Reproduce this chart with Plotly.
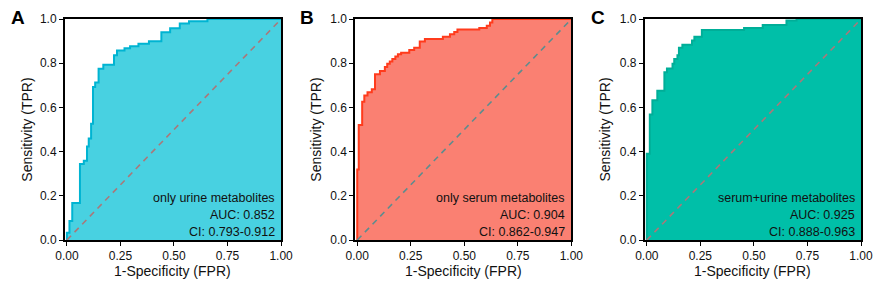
import plotly.graph_objects as go

W, H = 886, 287

# ---- data ----
fpr_urine = [0, 0, 0.012, 0.025, 0.061, 0.079, 0.094, 0.102, 0.113, 0.122, 0.132, 0.148, 0.170,
             0.220, 0.234, 0.269, 0.295, 0.334, 0.383, 0.441, 0.482, 0.527, 0.570, 0.656, 1.0]
tpr_urine = [0, 0.033, 0.086, 0.168, 0.344, 0.359, 0.423, 0.459, 0.526, 0.693, 0.713, 0.775, 0.793,
             0.836, 0.858, 0.868, 0.877, 0.888, 0.900, 0.940, 0.959, 0.980, 0.990, 1.0, 1.0]

fpr_serum = [0, 0, 0.007, 0.023, 0.033, 0.048, 0.068, 0.083, 0.106, 0.129, 0.140, 0.152, 0.164,
             0.178, 0.190, 0.205, 0.243, 0.266, 0.292, 0.316, 0.400, 0.433, 0.453, 0.468, 0.570,
             0.605, 0.620, 0.631, 1.0]
tpr_serum = [0, 0.319, 0.521, 0.626, 0.654, 0.669, 0.683, 0.750, 0.765, 0.783, 0.798, 0.808, 0.819,
             0.831, 0.841, 0.848, 0.860, 0.870, 0.898, 0.910, 0.920, 0.931, 0.941, 0.953, 0.960,
             0.970, 0.985, 1.0, 1.0]

fpr_both = [0, 0, 0.014, 0.026, 0.049, 0.082, 0.094, 0.120, 0.128, 0.143, 0.150, 0.166, 0.211,
            0.222, 0.257, 0.454, 0.541, 0.652, 0.699, 1.0]
tpr_both = [0, 0.39, 0.568, 0.633, 0.676, 0.759, 0.776, 0.798, 0.819, 0.836, 0.870, 0.884, 0.903,
            0.920, 0.951, 0.960, 0.973, 0.994, 1.0, 1.0]

panel_letters = ["A", "B", "C"]
model_names = ["only urine metabolites", "only serum metabolites", "serum+urine metabolites"]
auc_values = ["0.852", "0.904", "0.925"]
ci_values = ["0.793-0.912", "0.862-0.947", "0.888-0.963"]
x_ticks = [0, 0.25, 0.5, 0.75, 1.0]
y_ticks = [0, 0.2, 0.4, 0.6, 0.8, 1.0]

# ---- styling ----
fill_colors = ["#48D1E1", "#FA8072", "#00BFA8"]
line_colors = ["#00B4D2", "#FF3B1C", "#00AE98"]
diag_colors = ["#A9787A", "#5E8C8E", "#A9787A"]
FONT = "Liberation Sans, Arial, sans-serif"

# pixel geometry
frame_left = [57.1, 354.5, 651.1]
frame_right = [278.7, 576.0, 872.7]
y_top_px, y_bot_px = 12.7, 245.0
letter_x = [9.7, 305.0, 603.5]
ytitle_x = [17.5, 313.5, 610.5]

series = [(fpr_urine, tpr_urine), (fpr_serum, tpr_serum), (fpr_both, tpr_both)]

fig = go.Figure()
annotations = []
for i, (fx, ty) in enumerate(series):
    xa = "x" if i == 0 else f"x{i+1}"
    ya = "y" if i == 0 else f"y{i+1}"
    fig.add_trace(go.Scatter(
        x=fx, y=ty, mode="lines", line=dict(shape="hv", color=line_colors[i], width=2),
        fill="tozeroy", fillcolor=fill_colors[i], xaxis=xa, yaxis=ya, showlegend=False,
        hoverinfo="skip"))
    fig.add_trace(go.Scatter(
        x=[0, 1], y=[0, 1], mode="lines",
        line=dict(color=diag_colors[i], width=1.6, dash="6px,5px"),
        xaxis=xa, yaxis=ya, showlegend=False, hoverinfo="skip"))

    axis_common = dict(showline=True, linecolor="black", linewidth=1.5, mirror=True,
                       ticks="outside", ticklen=4, tickwidth=1.2, tickcolor="black",
                       showgrid=False, zeroline=False,
                       tickfont=dict(family=FONT, size=12, color="#111"))
    xkey = "xaxis" if i == 0 else f"xaxis{i+1}"
    ykey = "yaxis" if i == 0 else f"yaxis{i+1}"
    fig.update_layout(**{
        xkey: dict(domain=[frame_left[i] / W, frame_right[i] / W], range=[-0.01, 1.0],
                   tickvals=x_ticks, tickformat=".2f", anchor=ya, **axis_common),
        ykey: dict(domain=[1 - y_bot_px / H, 1 - y_top_px / H], range=[0, 1.0],
                   tickvals=y_ticks, tickformat=".1f", anchor=xa, **axis_common),
    })

    cx = (frame_left[i] + frame_right[i]) / 2 / W
    annotations.append(dict(text="1-Specificity (FPR)", x=cx, y=1 - 278.0 / H, xref="paper",
                            yref="paper", showarrow=False, xanchor="center", yanchor="middle",
                            borderpad=0,
                            font=dict(family=FONT, size=14, color="#111")))
    annotations.append(dict(text="Sensitivity (TPR)", x=ytitle_x[i] / W,
                            y=1 - (y_top_px + y_bot_px) / 2 / H, xref="paper", yref="paper",
                            showarrow=False, textangle=-90, xanchor="center", yanchor="middle",
                            font=dict(family=FONT, size=14, color="#111")))
    annotations.append(dict(text="<b>" + panel_letters[i] + "</b>", x=letter_x[i] / W,
                            y=1 - 11.5 / H, xref="paper", yref="paper", showarrow=False,
                            xanchor="center", yanchor="middle",
                            font=dict(family=FONT, size=19, color="black")))
    rx = (frame_right[i] - 4) / W
    for txt, ypx in [(model_names[i], 201.0), ("AUC: " + auc_values[i], 218.3),
                     ("CI: " + ci_values[i], 236.5)]:
        annotations.append(dict(text=txt, x=rx, y=1 - ypx / H, xref="paper", yref="paper",
                                showarrow=False, xanchor="right", yanchor="middle",
                                font=dict(family=FONT, size=12.5, color="#111")))

fig.update_layout(width=W, height=H, margin=dict(l=0, r=0, t=0, b=0),
                  paper_bgcolor="white", plot_bgcolor="white", annotations=annotations)

fig.write_html("out.html", config={"displayModeBar": False},
               post_script="document.body.style.margin='0';document.body.style.overflow='hidden';")
